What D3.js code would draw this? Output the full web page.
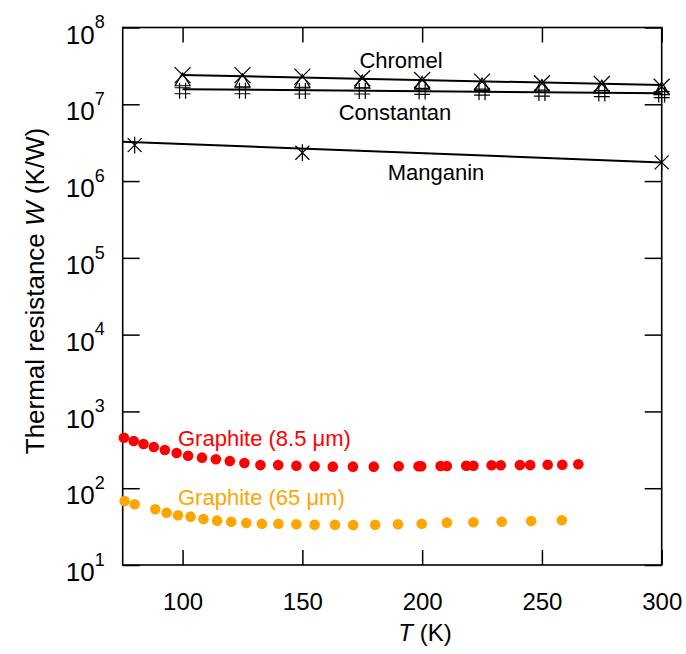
<!DOCTYPE html>
<html>
<head>
<meta charset="utf-8">
<script src="https://cdn.jsdelivr.net/npm/d3@7"></script>
<style>
  body { margin: 0; background: #fff; }
  text { font-family: "Liberation Sans", Arial, sans-serif; }
</style>
</head>
<body>
<div id="chart"></div>
<script>
// temperature grid of the wire measurements (K)
let wireT = [100, 125, 150, 175, 200, 225, 250, 275, 300];
// Chromel (x markers)
let chromelW = [2.40e7, 2.40e7, 2.29e7, 2.18e7, 2.07e7, 1.97e7, 1.88e7, 1.84e7, 1.69e7];
// open triangles
let triangleW = [2.04e7, 1.98e7, 1.95e7, 1.92e7, 1.84e7, 1.76e7, 1.68e7, 1.65e7, 1.56e7];
// Constantan (# markers)
let constantanW = [1.50e7, 1.50e7, 1.49e7, 1.49e7, 1.47e7, 1.44e7, 1.40e7, 1.38e7, 1.34e7];
// Manganin (asterisks)
let manganinT = [80, 150, 300];
let manganinW = [2.94e6, 2.34e6, 1.75e6];

// straight fit lines
let chromelFitT = [100, 300];
let chromelFitW = [2.40e7, 1.78e7];
let constantanFitT = [100, 300];
let constantanFitW = [1.57e7, 1.39e7];
let manganinFitT = [75, 300];
let manganinFitW = [3.25e6, 1.75e6];

// Graphite 8.5 um
let g85T = [75.5, 79.6, 83.7, 88.0, 92.6, 97.5, 102.3, 108.1, 113.9, 119.7, 125.8, 132.5, 139.9, 147.5,
            155.1, 162.7, 171.1, 179.8, 190.2, 198.5, 199.6, 207.7, 210.3, 218.4, 221.4, 229.0, 232.8,
            240.8, 245.1, 252.4, 258.5, 265.2];
let g85W = [455, 412, 377, 344, 315, 288, 265, 250, 238, 226, 213, 200, 200, 196,
            193, 191, 191, 191, 193, 193, 193, 195, 195, 196, 196, 199, 199,
            200, 200, 202, 202, 205];
// Graphite 65 um
let g65T = [75.8, 80.0, 88.6, 93.3, 98.1, 103.3, 108.7, 114.4, 120.3, 126.6, 133.1, 140.0, 147.5, 155.1,
            163.6, 171.2, 180.4, 189.9, 199.8, 210.3, 221.4, 233.2, 245.5, 258.3];
let g65W = [68.1, 61.7, 53.1, 48.0, 44.4, 42.6, 39.7, 37.8, 36.6, 35.2, 34.5, 34.5, 33.9, 33.5,
            33.5, 33.2, 33.5, 33.9, 34.5, 35.6, 36.0, 36.6, 37.4, 38.2];

let xTicks = [100, 150, 200, 250, 300];
let yTicks = [1e1, 1e2, 1e3, 1e4, 1e5, 1e6, 1e7, 1e8];

function zip(a, b){ return a.map((v, i) => ({T: v, W: b[i]})); }

let w = 686, h = 654;
let pLeft = 122.7, pRight = 661.7, pTop = 27.5, pBottom = 565;

let svg = d3.select("#chart")
            .append("svg")
              .attr("width", w)
              .attr("height", h);

let xScale = d3.scaleLinear().domain([75, 300]).range([pLeft, pRight]);
let yScale = d3.scaleLog().domain([10, 1e8]).range([pBottom, pTop]);

// axes, ticks pointing inwards on all four sides
let xAxis = d3.axisBottom(xScale).tickValues(xTicks).tickSizeInner(-15).tickSizeOuter(0).tickPadding(28);
let xAxisTop = d3.axisTop(xScale).tickValues(xTicks).tickSizeInner(-15).tickSizeOuter(0).tickFormat("");
let yAxis = d3.axisLeft(yScale).tickValues(yTicks).tickSizeInner(-17).tickSizeOuter(0).tickPadding(18);
let yAxisRight = d3.axisRight(yScale).tickValues(yTicks).tickSizeInner(-17).tickSizeOuter(0).tickFormat("");

let gx = svg.append("g").attr("transform", "translate(0," + pBottom + ")").call(xAxis);
svg.append("g").attr("transform", "translate(0," + pTop + ")").call(xAxisTop);
let gy = svg.append("g").attr("transform", "translate(" + pLeft + ",0)").call(yAxis);
svg.append("g").attr("transform", "translate(" + pRight + ",0)").call(yAxisRight);

svg.selectAll(".domain").remove();
svg.selectAll(".tick line").attr("stroke", "#000").attr("stroke-width", 1.5);

gx.selectAll(".tick text")
  .attr("font-size", "24px")
  .attr("fill", "#000");

gy.selectAll(".tick text")
  .attr("font-size", "26px")
  .attr("fill", "#000")
  .attr("dy", "0.6em")
  .each(function(d){
    let t = d3.select(this);
    t.text("10");
    t.append("tspan")
     .attr("font-size", "18px")
     .attr("dy", "-0.85em")
     .text(Math.round(Math.log10(d)));
  });

// frame
svg.append("rect")
   .attr("x", pLeft).attr("y", pTop)
   .attr("width", pRight - pLeft).attr("height", pBottom - pTop)
   .attr("fill", "none").attr("stroke", "#000").attr("stroke-width", 1.6);

// fit lines
let line = d3.line().x(d => xScale(d.T)).y(d => yScale(d.W));
[[chromelFitT, chromelFitW], [constantanFitT, constantanFitW], [manganinFitT, manganinFitW]].forEach(function(f){
  svg.append("path")
     .datum(zip(f[0], f[1]))
     .attr("d", line)
     .attr("fill", "none")
     .attr("stroke", "#000")
     .attr("stroke-width", 2);
});

// markers
function cross(x, y, s){ return "M" + (x-s) + "," + (y-s) + "L" + (x+s) + "," + (y+s) + "M" + (x-s) + "," + (y+s) + "L" + (x+s) + "," + (y-s); }
function tri(x, y, s){ return "M" + x + "," + (y-s) + "L" + (x+s) + "," + (y+s*0.7) + "L" + (x-s) + "," + (y+s*0.7) + "Z"; }
function hash(x, y, s){
  return "M" + (x-3) + "," + (y-s) + "L" + (x-3) + "," + (y+s) +
         "M" + (x+3) + "," + (y-s) + "L" + (x+3) + "," + (y+s) +
         "M" + (x-s) + "," + (y-3) + "L" + (x+s) + "," + (y-3) +
         "M" + (x-s) + "," + (y+3) + "L" + (x+s) + "," + (y+3);
}
function aster(x, y, s){ return cross(x, y, s) + "M" + x + "," + (y-s*1.2) + "L" + x + "," + (y+s*1.2); }

function markers(data, shape, s){
  svg.append("g").selectAll("path")
     .data(data)
     .join("path")
       .attr("d", d => shape(xScale(d.T), yScale(d.W), s))
       .attr("fill", "none")
       .attr("stroke", "#000")
       .attr("stroke-width", 1.2);
}
markers(zip(wireT, triangleW), tri, 7.5);
markers(zip(wireT, constantanW), hash, 8);
markers(zip(wireT, chromelW), cross, 8);
markers(zip(manganinT, manganinW), aster, 7);

// graphite dots
svg.append("g").selectAll("circle")
   .data(zip(g85T, g85W))
   .join("circle")
     .attr("cx", d => xScale(d.T)).attr("cy", d => yScale(d.W))
     .attr("r", 5.3).attr("fill", "#ff0000");
svg.append("g").selectAll("circle")
   .data(zip(g65T, g65W))
   .join("circle")
     .attr("cx", d => xScale(d.T)).attr("cy", d => yScale(d.W))
     .attr("r", 5.3).attr("fill", "#ffa500");

// labels
function label(x, y, txt, color, anchor){
  svg.append("text")
     .attr("x", x).attr("y", y)
     .attr("text-anchor", anchor)
     .attr("font-size", "22px")
     .attr("fill", color)
     .text(txt);
}
label(401, 68, "Chromel", "#000", "middle");
label(395, 120, "Constantan", "#000", "middle");
label(436, 180, "Manganin", "#000", "middle");
label(178, 446, "Graphite (8.5 \u03bcm)", "#ff0000", "start");
label(178, 505, "Graphite (65 \u03bcm)", "#ffa500", "start");

// axis titles
let ytitle = svg.append("text")
   .attr("transform", "translate(44,291) rotate(-90)")
   .attr("text-anchor", "middle")
   .attr("font-size", "26px");
ytitle.append("tspan").text("Thermal resistance ");
ytitle.append("tspan").attr("font-style", "italic").text("W");
ytitle.append("tspan").text(" (K/W)");

let xtitle = svg.append("text")
   .attr("x", 425).attr("y", 641)
   .attr("text-anchor", "middle")
   .attr("font-size", "24px");
xtitle.append("tspan").attr("font-style", "italic").text("T");
xtitle.append("tspan").text(" (K)");
</script>
</body>
</html>
